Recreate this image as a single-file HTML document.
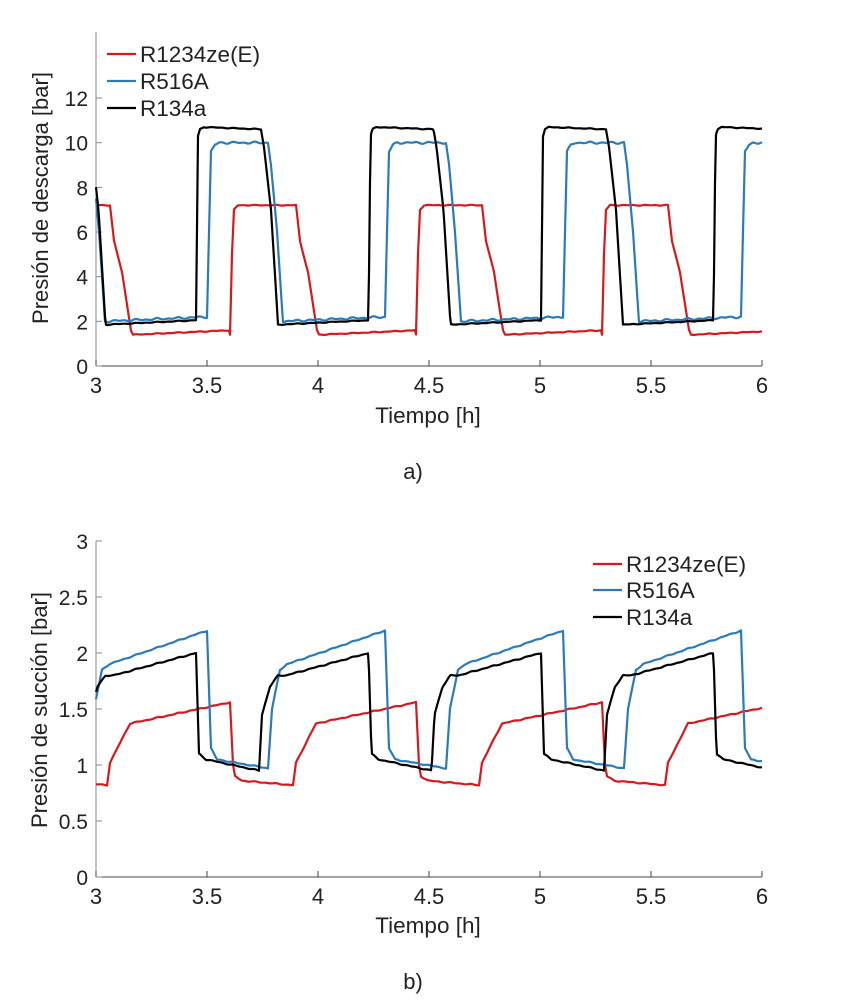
<!DOCTYPE html>
<html><head><meta charset="utf-8"><style>
body{margin:0;background:#fff}
svg{display:block;font-family:"Liberation Sans",Arial,sans-serif}
</style></head><body>
<svg id="s" width="866" height="1004" xmlns="http://www.w3.org/2000/svg">
<g id="g"></g>
</svg>
<script>
const NS="http://www.w3.org/2000/svg",g=document.getElementById('g');
function el(t,a,txt){const e=document.createElementNS(NS,t);for(const k in a)e.setAttribute(k,a[k]);if(txt!==undefined)e.textContent=txt;g.appendChild(e);return e;}
const X0=96,X1=762;
function xt(t){return X0+222*(t-3);}
function cyc(pts,P,r0,x){
  let d=((x-r0)%P+P)%P;
  for(let i=0;i<pts.length-1;i++){if(d>=pts[i][0]&&d<=pts[i+1][0]){const a=pts[i],b=pts[i+1];return a[1]+(b[1]-a[1])*(d-a[0])/(b[0]-a[0]||1);}}
  return pts[pts.length-1][1];
}
function series(pts,P,r0,yf,col,noise){
  let d="";
  for(let x=X0;x<=X1;x+=1){let v=cyc(pts,P,r0,x)+(noise?noise*Math.sin(x*0.45)*Math.sin(x*0.13):0);d+=(d?"L":"M")+x.toFixed(1)+" "+yf(v).toFixed(1);}
  el('path',{d:d,fill:'none',stroke:col,'stroke-width':2.2,'stroke-linejoin':'round'});
}
function axes(yTop,y0,yf,yt,ylab,lx,ly){
  el('line',{x1:X0,y1:yTop,x2:X0,y2:y0,stroke:'#888','stroke-width':1});
  el('line',{x1:X0,y1:y0,x2:X1,y2:y0,stroke:'#444','stroke-width':1});
  for(let i=0;i<=6;i++){const t=3+i*0.5,x=xt(t);el('line',{x1:x,y1:y0,x2:x,y2:y0-6,stroke:'#444'});
    el('text',{x:x,y:y0+27,'font-size':22,'text-anchor':'middle',fill:'#222'},String(t));}
  yt.forEach(v=>{const y=yf(v);el('line',{x1:X0,y1:y,x2:X0+6,y2:y,stroke:'#888'});
    el('text',{x:X0-8,y:y+8,'font-size':21,'text-anchor':'end',fill:'#222'},String(v));});
  el('text',{x:lx,y:ly,'font-size':22,'text-anchor':'middle',fill:'#222',transform:`rotate(-90 ${lx} ${ly})`},ylab);
}
const yA=p=>366-22.33*p;
axes(32,366,yA,[0,2,4,6,8,10,12],"Presión de descarga [bar]",48,198);
el('text',{x:428,y:423,'font-size':22.5,'text-anchor':'middle',fill:'#222'},"Tiempo [h]");
el('text',{x:413,y:479,'font-size':22,'text-anchor':'middle',fill:'#222'},"a)");
series([[0,1.4],[0.01,1.4],[2,5],[4,7.0],[8,7.2],[66,7.2],[70,5.6],[78,4.2],[87,1.6],[89,1.4],[186,1.6]],186,230,yA,'#d7191c',0.02);
series([[0,2.2],[2,6],[4,9.6],[8,9.9],[12,10.0],[61,10.0],[64,9.0],[70,6],[76,2.0],[178,2.2]],178,207,yA,'#2b7bba',0.05);
series([[0,2.05],[2,10.3],[4,10.6],[8,10.7],[65,10.6],[68,9.8],[75,7],[82,1.85],[172.5,2.05]],172.5,196,yA,'#000',0.02);
[["R1234ze(E)",'#d7191c',54],["R516A",'#2b7bba',81],["R134a",'#000',108]].forEach(a=>{
 el('line',{x1:107,y1:a[2],x2:136,y2:a[2],stroke:a[1],'stroke-width':2.2});
 el('text',{x:140,y:a[2]+8,'font-size':22.5,fill:'#222'},a[0]);});
const yB=p=>877-112*p;
axes(541,877,yB,[0,0.5,1,1.5,2,2.5,3],"Presión de succión [bar]",47,710);
el('text',{x:428,y:933,'font-size':22.5,'text-anchor':'middle',fill:'#222'},"Tiempo [h]");
el('text',{x:413,y:989,'font-size':22,'text-anchor':'middle',fill:'#222'},"b)");
series([[0,1.56],[3,1.0],[5,0.9],[12,0.86],[63,0.82],[66,1.02],[79,1.25],[86,1.37],[186,1.56]],186,230,yB,'#d7191c',0.005);
series([[0,2.2],[4,1.15],[10,1.05],[61,0.97],[65,1.5],[73,1.85],[80,1.9],[178,2.2]],178,207,yB,'#2b7bba',0.005);
series([[0,2.0],[3,1.1],[10,1.05],[63,0.95],[66,1.45],[74,1.7],[82,1.8],[90,1.8],[172.5,2.0]],172.5,196,yB,'#000',0.005);
[["R1234ze(E)",'#d7191c',564],["R516A",'#2b7bba',590],["R134a",'#000',617]].forEach(a=>{
 el('line',{x1:593,y1:a[2],x2:622,y2:a[2],stroke:a[1],'stroke-width':2.2});
 el('text',{x:626,y:a[2]+8,'font-size':22.5,fill:'#222'},a[0]);});
</script>
</body></html>
